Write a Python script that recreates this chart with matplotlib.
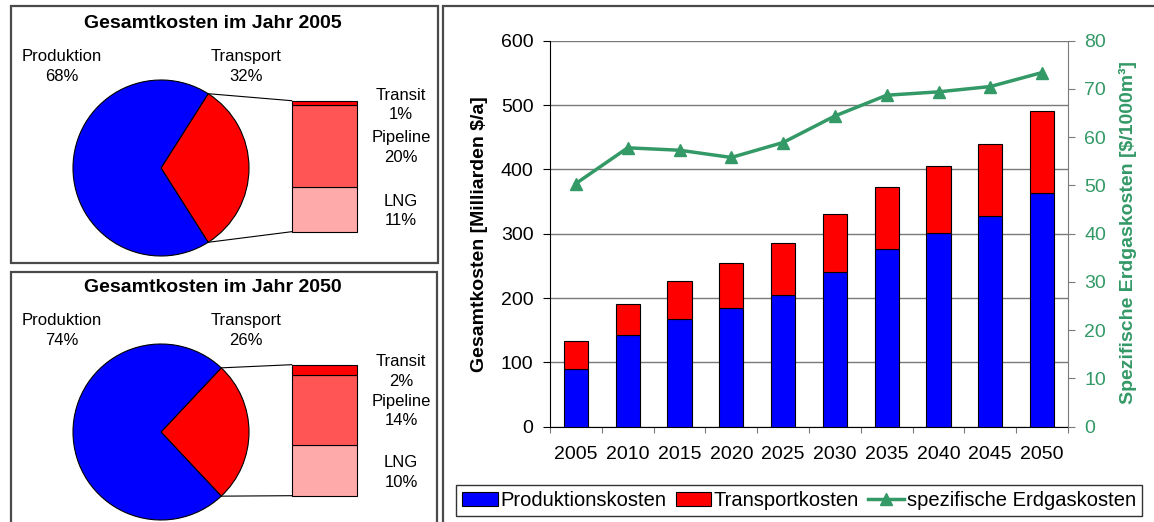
import matplotlib
matplotlib.use("Agg")
import matplotlib.pyplot as plt
import numpy as np
from matplotlib.patches import Rectangle, Patch
from matplotlib.lines import Line2D

plt.rcParams['font.family'] = ['Liberation Sans', 'DejaVu Sans']

# ---- data -------------------------------------------------------------
years = ['2005', '2010', '2015', '2020', '2025', '2030', '2035', '2040', '2045', '2050']
production_cost = [89, 142, 167, 185, 205, 240, 276, 301, 327, 364]      # Mrd $/a
transport_cost = [44, 48, 59, 69, 81, 91, 97, 105, 113, 127]            # Mrd $/a
specific_cost = [50.4, 57.8, 57.3, 55.8, 58.9, 64.4, 68.7, 69.4, 70.5, 73.4]  # $/1000m3

share_labels = ['Produktion', 'Transport']
shares_2005 = [68, 32]
shares_2050 = [74, 26]
transport_parts = ['Transit', 'Pipeline', 'LNG']
parts_2005 = [1, 20, 11]
parts_2050 = [2, 14, 10]

# ---- figure -----------------------------------------------------------
W, H, DPI = 1154, 522, 100
fig = plt.figure(figsize=(W / DPI, H / DPI), dpi=DPI)

BLUE = '#0000FF'
RED = '#FF0000'
PIPE = '#FF5555'
LNG = '#FFAAAA'
GREEN = '#339966'
BOX = '#4a4a4a'

# overlay axes in pixel units (y measured upward) for the two pie panels
ov = fig.add_axes([0, 0, 1, 1])


def py(y):
    return H - y


def pie_panel(title, shares, parts, dy, right_label_y):
    prod, trans = shares
    cx, cy, r = 161, 168 + dy, 88
    half = trans / 100 * 180
    ov.pie([trans, prod], colors=[RED, BLUE], startangle=-half, counterclock=True,
           center=(cx, py(cy)), radius=r,
           wedgeprops=dict(edgecolor='black', linewidth=0.8))
    # breakdown of the transport share
    bx0, bx1 = 291.7, 356.7
    btop, bbot = 100.7 + dy, 231.7 + dy
    total_h = bbot - btop
    seg_colors = {'Transit': RED, 'Pipeline': PIPE, 'LNG': LNG}
    bottom = py(bbot)
    for name in ['LNG', 'Pipeline', 'Transit']:
        v = parts[transport_parts.index(name)]
        h = v / trans * total_h
        ov.bar((bx0 + bx1) / 2, h, width=bx1 - bx0, bottom=bottom,
               color=seg_colors[name], edgecolor='black', linewidth=0.8)
        bottom += h
    # connector lines
    a = np.deg2rad(half)
    ov.plot([cx + r * np.cos(a), bx0], [py(cy) + r * np.sin(a), py(btop)],
            color='black', lw=0.8)
    ov.plot([cx + r * np.cos(a), bx0], [py(cy) - r * np.sin(a), py(bbot)],
            color='black', lw=0.8)
    # texts
    ov.text(213, py(23 + dy), title, ha='center', va='center',
            fontsize=14, fontweight='bold')
    ov.text(62, py(66.5 + dy), f'{share_labels[0]}\n{prod}%', ha='center',
            va='center', fontsize=12, linespacing=1.35)
    ov.text(246, py(66.5 + dy), f'{share_labels[1]}\n{trans}%', ha='center',
            va='center', fontsize=12, linespacing=1.35)
    for name, v, yy in zip(transport_parts, parts, right_label_y):
        ov.text(401, py(yy), f'{name}\n{v}%', ha='center', va='center',
                fontsize=12, linespacing=1.35)


pie_panel('Gesamtkosten im Jahr 2005', shares_2005, parts_2005, 0, [105, 147.5, 211])
pie_panel('Gesamtkosten im Jahr 2050', shares_2050, parts_2050, 264, [371.5, 411, 472.5])

# panel frames
for (x0, y0, x1, y1) in [(11, 6, 437.5, 263), (11, 272, 437, 540), (443, 6, 1170, 540)]:
    ov.add_patch(Rectangle((x0, py(y1)), x1 - x0, y1 - y0, fill=False,
                           edgecolor=BOX, linewidth=1.6, clip_on=False))

ov.set_xlim(0, W)
ov.set_ylim(0, H)
ov.set_aspect('auto')
ov.axis('off')

# ---- main chart -------------------------------------------------------
L, R, T, B = 550, 1068, 40.7, 426.7
ax = fig.add_axes([L / W, 1 - B / H, (R - L) / W, (B - T) / H])
x = np.arange(len(years))
ax.bar(x, production_cost, width=0.47, color=BLUE, edgecolor='black', linewidth=0.8, zorder=3)
ax.bar(x, transport_cost, bottom=production_cost, width=0.47, color=RED,
       edgecolor='black', linewidth=0.8, zorder=3)
ax.set_xlim(-0.5, len(years) - 0.5)
ax.set_ylim(0, 600)
ax.set_yticks(range(0, 601, 100))
ax.yaxis.grid(True, color='#7a7a7a', linewidth=1.0)
ax.set_axisbelow(True)
for s in ['top', 'right']:
    ax.spines[s].set_visible(False)
ax.spines['left'].set_color('black')
ax.spines['bottom'].set_color('black')
ax.set_xticks(np.arange(-0.5, len(years), 1))
ax.set_xticklabels([])
ax.set_xticks(x, minor=True)
ax.set_xticklabels(years, minor=True)
ax.tick_params(axis='x', which='major', length=4.5, color='#7a7a7a', direction='out')
ax.tick_params(axis='x', which='minor', length=0, pad=14, labelsize=14)
ax.tick_params(axis='y', length=4.8, color='black', labelsize=14, pad=7)

ax2 = ax.twinx()
ax2.plot(x, specific_cost, color=GREEN, lw=2.5, marker='^', ms=8, zorder=4)
ax2.set_ylim(0, 80)
ax2.set_yticks(range(0, 81, 10))
for s in ['top', 'left', 'bottom']:
    ax2.spines[s].set_visible(False)
ax2.spines['right'].set_color('#7a7a7a')
ax2.tick_params(axis='y', color='#7a7a7a', labelcolor=GREEN, length=5.2,
                labelsize=14, pad=6.5)

fig.text(480 / W, 1 - 234 / H, 'Gesamtkosten [Milliarden $/a]', rotation=90,
         ha='center', va='center', fontsize=14, fontweight='bold')
fig.text(1128 / W, 1 - 233 / H, 'Spezifische Erdgaskosten [$/1000m³]', rotation=90,
         ha='center', va='center', fontsize=14, fontweight='bold', color=GREEN)

handles = [Patch(facecolor=BLUE, edgecolor='black', linewidth=0.8),
           Patch(facecolor=RED, edgecolor='black', linewidth=0.8),
           Line2D([], [], color=GREEN, lw=2.5, marker='^', ms=8)]
leg = fig.legend(handles, ['Produktionskosten', 'Transportkosten', 'spezifische Erdgaskosten'],
                 loc='center', bbox_to_anchor=((457 + 1141) / 2 / W, 1 - 500.5 / H),
                 ncol=3, fontsize=14.5, frameon=True, fancybox=False, edgecolor='black',
                 handlelength=1.75, handleheight=0.75, handletextpad=0.15,
                 columnspacing=0.45, borderpad=0.3, borderaxespad=0)
leg.get_frame().set_linewidth(1.0)

fig.savefig('out.png', dpi=DPI)
